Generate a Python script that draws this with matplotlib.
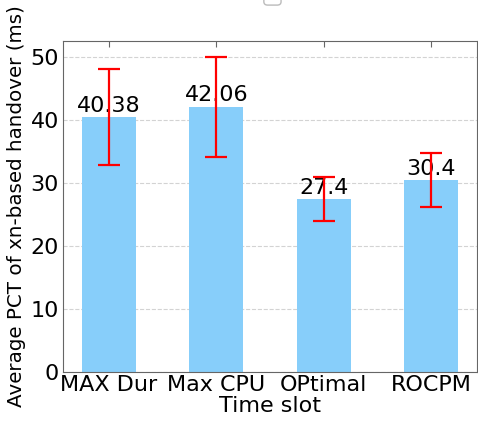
import numpy as np
import matplotlib.pyplot as plt
from matplotlib.patches import FancyBboxPatch


methods = ['MAX Dur', 'Max CPU', 'OPtimal', 'ROCPM']
pct_mean = [40.38, 42.06, 27.4, 30.4]
pct_err = [7.6, 7.9, 3.5, 4.25]

fig = plt.figure(figsize=(4.78, 4.24), dpi=100)
ax = fig.add_axes([0.132, 0.1226, 0.866, 0.781])

x = np.arange(len(methods))
bars = ax.bar(x, pct_mean, width=0.5, color='lightskyblue', zorder=2)
ax.bar_label(bars, labels=[str(v) for v in pct_mean], padding=1, fontsize=16, zorder=2.5)
ax.errorbar(x, pct_mean, yerr=pct_err, fmt='none', ecolor='red',
            elinewidth=1.6, capsize=8, capthick=1.6, zorder=3)

ax.set_xticks(x)
ax.set_xticklabels(methods, fontsize=16)
ax.set_yticks(np.arange(0, 51, 10))
ax.tick_params(axis='y', labelsize=16, length=0, pad=3)
ax.tick_params(axis='x', bottom=False, top=True, direction='in', length=4,
               color='#666666', pad=2)
ax.set_ylim(0, 52.5)
ax.set_xlim(-0.425, 3.425)
ax.grid(axis='y', linestyle='--', color='lightgray', linewidth=0.8, zorder=0)
ax.set_axisbelow(True)
for s in ax.spines.values():
    s.set_color('#666666')

ax.set_xlabel('Time slot', fontsize=16, labelpad=1)
ax.set_ylabel('Average PCT of xn-based handover (ms)', fontsize=14.3, labelpad=3)

# empty legend box at the top, mostly cut off
fig.patches.append(FancyBboxPatch((0.552, 0.988), 0.036, 0.05,
                                  boxstyle='round,pad=0,rounding_size=0.008',
                                  transform=fig.transFigure, facecolor='white',
                                  edgecolor='#bbbbbb', linewidth=1))

fig.savefig('out.png', dpi=100)
